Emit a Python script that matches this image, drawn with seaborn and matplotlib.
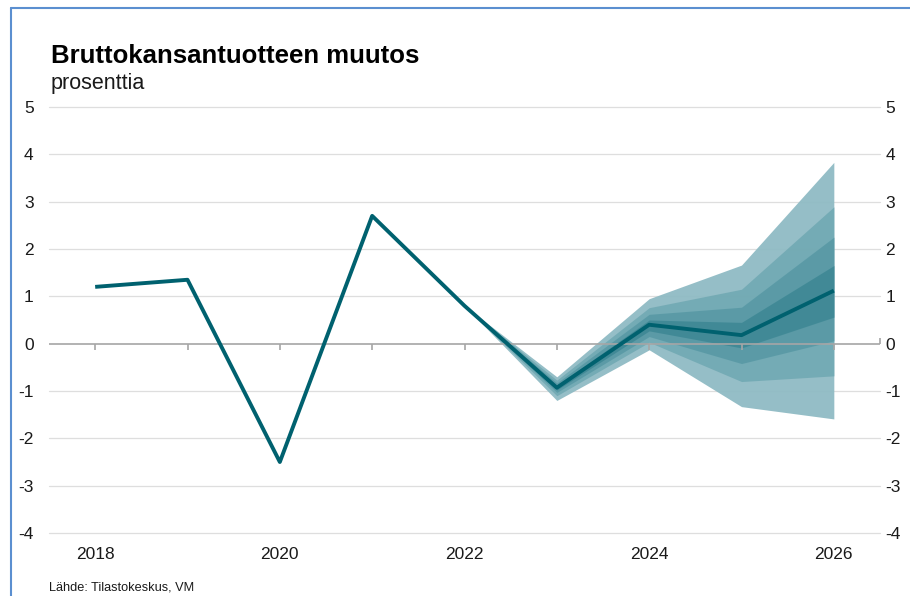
import matplotlib
matplotlib.use("Agg")
import matplotlib.pyplot as plt
import seaborn as sns
import pandas as pd
import numpy as np
from matplotlib.lines import Line2D

sns.set_theme(style="white")
plt.rcParams['font.family'] = ['Liberation Sans', 'DejaVu Sans']

years = [2018, 2019, 2020, 2021, 2022, 2023, 2024, 2025, 2026]
gdp = [1.2, 1.35, -2.5, 2.7, 0.8, -0.93, 0.4, 0.18, 1.12]

fan_years = [2022, 2023, 2024, 2025, 2026]
# upper / lower limits of the fan bands, outermost first
fan_upper = [
    [0.8, -0.70, 0.95, 1.66, 3.83],
    [0.8, -0.77, 0.76, 1.15, 2.89],
    [0.8, -0.83, 0.62, 0.77, 2.25],
    [0.8, -0.88, 0.50, 0.45, 1.65],
]
fan_lower = [
    [0.8, -1.20, -0.13, -1.33, -1.59],
    [0.8, -1.10, 0.03, -0.80, -0.68],
    [0.8, -1.03, 0.15, -0.42, 0.06],
    [0.8, -0.98, 0.27, -0.09, 0.56],
]
fan_colors = ["#8fbbc4", "#73aab4", "#5a9aa6", "#408996"]

x_ticks = [2018, 2020, 2022, 2024, 2026]
y_ticks = [-4, -3, -2, -1, 0, 1, 2, 3, 4, 5]

fig = plt.figure(figsize=(9.10, 5.96), dpi=100)
ax = fig.add_axes([49/910, 1-533/596, (880-49)/910, (533-107)/596])

for y in y_ticks:
    if y != 0:
        ax.axhline(y, color="#dedede", lw=0.9, zorder=0, clip_on=False)

for up, lo, c in zip(fan_upper, fan_lower, fan_colors):
    ax.fill_between(fan_years, lo, up, color=c, lw=0, alpha=0.95, zorder=1)

ax.axhline(0, color="#a6a6a6", lw=1.2, zorder=2)
ax.plot(years, [0]*len(years), linestyle="none", marker=3, markersize=4,
        color="#a6a6a6", markeredgewidth=1.2, zorder=2)
ax.plot([2026.5], [0], linestyle="none", marker=2, markersize=4,
        color="#a6a6a6", markeredgewidth=1.2, zorder=2, clip_on=False)

df = pd.DataFrame({"year": years, "gdp": gdp})
sns.lineplot(data=df, x="year", y="gdp", ax=ax, color="#00616f", lw=2.8,
             zorder=3, solid_capstyle="butt")

ax.set_xlim(2017.5, 2026.5)
ax.set_ylim(-4, 5)
ax.set_xticks(x_ticks)
ax.set_xticklabels([str(t) for t in x_ticks])
ax.set_yticks(y_ticks)
ax.set_yticklabels([str(t) for t in y_ticks])
ax.set_xlabel("")
ax.set_ylabel("")
for s in ax.spines.values():
    s.set_visible(False)
ax.tick_params(axis="both", length=0, labelsize=12.5, colors="#1a1a1a")
ax.tick_params(axis="x", pad=10)
ax.tick_params(axis="y", pad=11)

ax2 = ax.twinx()
ax2.set_ylim(-4, 5)
ax2.set_yticks(y_ticks)
ax2.set_yticklabels([str(t) for t in y_ticks])
for s in ax2.spines.values():
    s.set_visible(False)
ax2.tick_params(axis="y", length=0, labelsize=12.5, colors="#1a1a1a", pad=4)
ax2.grid(False)

fig.text(51/910, 1-56/596, "Bruttokansantuotteen muutos", fontsize=18.5,
         fontweight="bold", va="center", ha="left", color="#000000")
fig.text(51/910, 1-83/596, "prosenttia", fontsize=15.5, va="center",
         ha="left", color="#1a1a1a")
fig.text(49/910, 1-588/596, "Lähde: Tilastokeskus, VM", fontsize=9.2,
         va="center", ha="left", color="#1a1a1a")

fig.add_artist(Line2D([11/910, 11/910], [0, 1-8/596], transform=fig.transFigure,
                      color="#5b8fd0", lw=1.5))
fig.add_artist(Line2D([11/910, 1], [1-8/596, 1-8/596], transform=fig.transFigure,
                      color="#5b8fd0", lw=1.5))

fig.savefig("out.png", dpi=100)
